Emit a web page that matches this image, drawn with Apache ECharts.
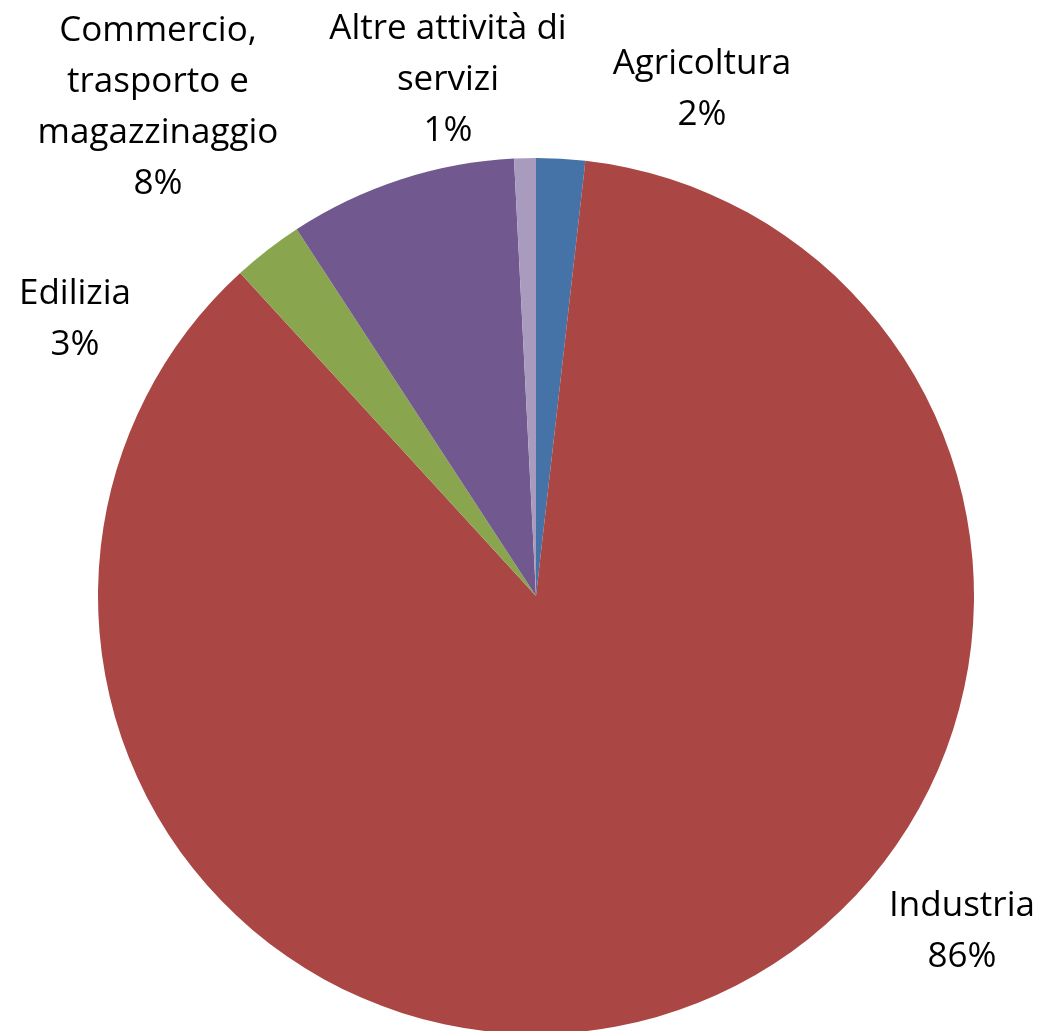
<!DOCTYPE html>
<html>
<head>
<meta charset="utf-8">
<script src="https://cdn.jsdelivr.net/npm/echarts@6/dist/echarts.min.js"></script>
<style>
  html, body { margin: 0; padding: 0; background: #fff; }
  #chart { width: 1044px; height: 1031px; }
</style>
</head>
<body>
<div id="chart"></div>
<script>
  // dati del grafico
  var categories = ['Agricoltura', 'Industria', 'Edilizia', 'Commercio,\ntrasporto e\nmagazzinaggio', 'Altre attività di\nservizi'];
  var values = [1.8, 86.4, 2.6, 8.4, 0.8];
  var colors = ['#4572A7', '#AA4643', '#89A54E', '#71588F', '#A99BBD'];

  // posizione delle etichette (centro del blocco di testo)
  var labelPos = [[702, 90], [962, 932], [75, 320], [158, 108], [448, 80]];

  var chart = echarts.init(document.getElementById('chart'));
  chart.setOption({
    backgroundColor: '#fff',
    animation: false,
    series: [{
      type: 'pie',
      center: [536, 596],
      radius: 438,
      startAngle: 90,
      clockwise: true,
      color: colors,
      itemStyle: { borderWidth: 0 },
      label: {
        show: true,
        position: 'outside',
        color: '#000',
        fontFamily: 'Open Sans',
        fontSize: 35,
        lineHeight: 51,
        align: 'center',
        overflow: 'none',
        formatter: function (p) {
          return p.name + '\n' + Math.round(p.percent) + '%';
        }
      },
      labelLine: { show: false },
      labelLayout: function (params) {
        var pos = labelPos[params.dataIndex];
        return { x: pos[0], y: pos[1], align: 'center', verticalAlign: 'middle' };
      },
      data: categories.map(function (c, i) {
        return { name: c, value: values[i] };
      })
    }]
  });
</script>
</body>
</html>
